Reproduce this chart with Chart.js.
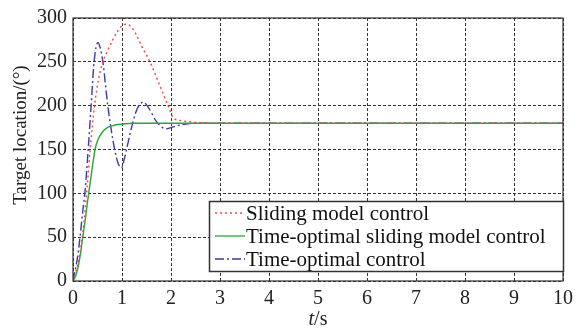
<!DOCTYPE html>
<html lang="en">
<head>
<meta charset="UTF-8">
<title>Target location</title>
<script src="https://cdn.jsdelivr.net/npm/chart.js"></script>
<style>
    html, body { margin: 0; padding: 0; background: #fff; }
    canvas { display: block; }
</style>
</head>
<body>
<canvas id="chart" width="580" height="332"></canvas>
<script>
    // series
    const slidingT = [0, 0.1, 0.2, 0.3, 0.35, 0.44, 0.52, 0.61, 0.7, 0.8, 0.9, 1.0, 1.09, 1.2, 1.3, 1.4, 1.57, 1.75, 1.94, 2.05, 2.2, 2.5, 3, 10];
    const slidingV = [0, 20, 55, 115, 150, 200, 230, 250, 262, 274, 284, 291, 293, 289, 280, 268, 250, 226, 200, 186, 183, 181, 180, 180];

    const tosmcT = [0, 0.05, 0.1, 0.15, 0.2, 0.25, 0.3, 0.35, 0.4, 0.45, 0.5, 0.6, 0.7, 0.8, 0.9, 1.0, 1.2, 1.5, 2, 3, 10];
    const tosmcV = [0, 5, 15, 30, 50, 70, 92, 112, 132, 150, 160, 170, 175, 177, 178.5, 179, 180, 180, 180, 180, 180];

    const timeOptT = [0, 0.1, 0.2, 0.25, 0.31, 0.37, 0.43, 0.51, 0.56, 0.61, 0.71, 0.85, 0.93, 0.99, 1.05, 1.19, 1.3, 1.43, 1.55, 1.7, 1.8, 1.9, 2.0, 2.2, 2.5, 3, 10];
    const timeOptV = [0, 30, 80, 105, 150, 200, 250, 272, 265, 250, 200, 150, 133, 129, 140, 174, 195, 204, 197, 182, 176, 173.5, 175, 178, 180, 180, 180];

    const xTicks = [0, 1, 2, 3, 4, 5, 6, 7, 8, 9, 10];
    const yTicks = [0, 50, 100, 150, 200, 250, 300];

    const labels = ['Sliding model control', 'Time-optimal sliding model control', 'Time-optimal control'];
    const colors = ['#f04848', '#2aa53a', '#3a3aa8'];
    const dashes = [[2, 3], [], [9, 3, 2, 3]];

    const pts = (t, v) => t.map((x, i) => ({ x: x, y: v[i] }));
    const serif = 'Liberation Serif';

    // frame, axis titles and the boxed legend
    const framePlugin = {
        id: 'frame',
        afterDatasetsDraw(chart) {
            const { ctx, chartArea: a } = chart;
            ctx.save();
            ctx.strokeStyle = '#333';
            ctx.lineWidth = 1.2;
            ctx.strokeRect(a.left, a.top, a.right - a.left, a.bottom - a.top);

            // y title
            ctx.fillStyle = '#222';
            ctx.font = '19px "' + serif + '"';
            ctx.textAlign = 'center';
            ctx.textBaseline = 'middle';
            ctx.save();
            ctx.translate(21, 135);
            ctx.rotate(-Math.PI / 2);
            ctx.fillText('Target location/(°)', 0, 0);
            ctx.restore();

            // x title: italic t, upright /s
            ctx.textAlign = 'left';
            ctx.font = 'italic 20px "' + serif + '"';
            const tw = ctx.measureText('t').width;
            ctx.font = '20px "' + serif + '"';
            const sw = ctx.measureText('/s').width;
            const x0 = (a.left + a.right) / 2 - (tw + sw) / 2;
            ctx.font = 'italic 20px "' + serif + '"';
            ctx.fillText('t', x0, 320);
            ctx.font = '20px "' + serif + '"';
            ctx.fillText('/s', x0 + tw, 320);

            // legend box
            const bx = 209.5, by = 201.5, bw = 354, bh = 70;
            ctx.fillStyle = '#fff';
            ctx.fillRect(bx, by, bw, bh);
            ctx.strokeStyle = '#333';
            ctx.lineWidth = 1.5;
            ctx.strokeRect(bx, by, bw, bh);
            ctx.font = '21px "' + serif + '"';
            const rows = [213, 236, 259];
            chart.data.datasets.forEach((ds, i) => {
                const y = rows[i];
                ctx.strokeStyle = ds.borderColor;
                ctx.lineWidth = 1.3;
                ctx.setLineDash(dashes[i]);
                ctx.beginPath();
                ctx.moveTo(215, y);
                ctx.lineTo(245, y);
                ctx.stroke();
                ctx.setLineDash([]);
                ctx.fillStyle = '#111';
                ctx.fillText(ds.label, 246, y + 1);
            });
            ctx.restore();
        }
    };

    const datasets = [
        pts(slidingT, slidingV),
        pts(tosmcT, tosmcV),
        pts(timeOptT, timeOptV)
    ].map((d, i) => ({
        label: labels[i],
        data: d,
        borderColor: colors[i],
        borderWidth: 1.4,
        borderDash: dashes[i],
        pointRadius: 0,
        fill: false,
        cubicInterpolationMode: 'monotone'
    }));

    new Chart(document.getElementById('chart'), {
        type: 'line',
        data: { datasets: datasets },
        options: {
            responsive: false,
            animation: false,
            devicePixelRatio: 1,
            layout: { padding: { top: 14, right: 17, left: 0, bottom: 0 } },
            plugins: {
                legend: { display: false },
                tooltip: { enabled: false }
            },
            scales: {
                x: {
                    type: 'linear',
                    min: 0,
                    max: 10,
                    afterBuildTicks: s => { s.ticks = xTicks.map(v => ({ value: v })); },
                    afterFit: s => { s.height = 51; },
                    grid: { color: '#333', lineWidth: 1, drawTicks: false },
                    border: { display: false, dash: [3, 2] },
                    ticks: { color: '#222', padding: 6, font: { family: serif, size: 20 } }
                },
                y: {
                    min: 0,
                    max: 300,
                    afterBuildTicks: s => { s.ticks = yTicks.map(v => ({ value: v })); },
                    afterFit: s => { s.width = 73; },
                    grid: { color: '#333', lineWidth: 1, drawTicks: false },
                    border: { display: false, dash: [3, 2] },
                    ticks: { color: '#222', padding: 6, font: { family: serif, size: 20 } }
                }
            }
        },
        plugins: [framePlugin]
    });
</script>
</body>
</html>
